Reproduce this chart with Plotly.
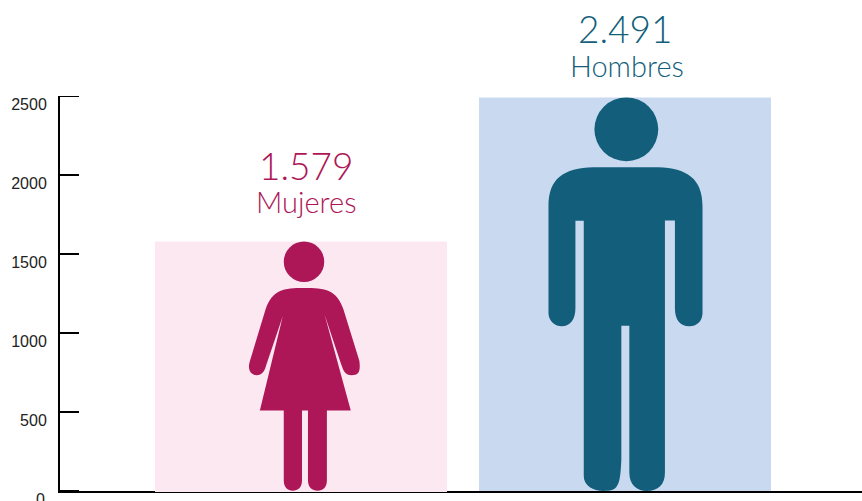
import plotly.graph_objects as go

# --- data ---
categories = ["Mujeres", "Hombres"]
values = [1579, 2491]
value_labels = ["1.579", "2.491"]
y_ticks = [0, 500, 1000, 1500, 2000, 2500]

# --- style ---
W, H = 862, 501
ML, MT, MB = 60, 96, 10
PLOT_W, PLOT_H = W - ML, H - MT - MB
Y_MAX = 2500
X_UNIT = 324.0
X0_PX = 301.0
X_RANGE = [(ML - X0_PX) / X_UNIT, (W - X0_PX) / X_UNIT]
BAR_W = 292 / X_UNIT
bar_colors = ["#FCE8F1", "#C9DAF0"]
fig_colors = ["#AE1757", "#135F7B"]
text_colors = ["#AE1757", "#135F7B"]
FONT = "Lato"
TICK_FONT = dict(family="Liberation Sans", size=16, color="#222222")

# Pictogram outlines: hand-traced, in their own drawing units (top, bottom, centre given below)
woman = dict(
    top=35, bottom=787, cx=221,
    head=(221, 96, 61),
    path=[
        ("M", (221, 175)),
        ("C", (160, 175), (125, 180), (105, 240)),
        ("L", (58, 395)),
        ("C", (48, 425), (65, 438), (78, 438)),
        ("C", (95, 438), (103, 425), (108, 405)),
        ("L", (157, 260)),
        ("L", (88, 544)),
        ("L", (160, 544)),
        ("L", (160, 755)),
        ("C", (160, 775), (172, 786), (187, 786)),
        ("C", (203, 786), (215, 775), (215, 755)),
        ("L", (215, 544)),
        ("L", (233, 544)),
        ("L", (233, 755)),
        ("C", (233, 775), (246, 786), (262, 786)),
        ("C", (278, 786), (290, 775), (290, 755)),
        ("L", (290, 544)),
        ("L", (362, 544)),
        ("L", (283, 255)),
        ("L", (333, 405)),
        ("C", (340, 425), (345, 438), (365, 438)),
        ("C", (385, 438), (392, 430), (388, 395)),
        ("L", (340, 240)),
        ("C", (320, 180), (285, 175), (221, 175)),
        ("Z",),
    ],
)
man = dict(
    top=22, bottom=1205, cx=288,
    head=(289, 118, 96),
    path=[
        ("M", (288, 232)),
        ("L", (190, 232)),
        ("C", (100, 235), (55, 265), (55, 350)),
        ("L", (55, 670)),
        ("C", (55, 695), (75, 710), (95, 710)),
        ("C", (120, 710), (136, 690), (136, 655)),
        ("L", (136, 393)),
        ("L", (161, 393)),
        ("L", (161, 1160)),
        ("C", (161, 1190), (190, 1205), (220, 1205)),
        ("C", (240, 1205), (255, 1203), (262, 1188)),
        ("C", (268, 1178), (272, 1160), (274, 1110)),
        ("L", (274, 708)),
        ("L", (298, 708)),
        ("L", (298, 1150)),
        ("C", (298, 1185), (320, 1205), (350, 1205)),
        ("C", (385, 1205), (405, 1185), (405, 1150)),
        ("L", (405, 392)),
        ("L", (435, 392)),
        ("L", (435, 655)),
        ("C", (435, 690), (450, 710), (478, 710)),
        ("C", (505, 710), (518, 690), (518, 670)),
        ("L", (518, 350)),
        ("C", (518, 265), (470, 235), (385, 232)),
        ("Z",),
    ],
)
figures = [woman, man]
fig_offset_px = [3, 1]  # pictogram centre vs bar centre
number_shift = [76, 69]
label_shift = [40, 32]
text_dx = [5, 0]
label_dx = [5, 2]


def pictogram_shapes(fig_def, x_center, value, color, dx_px):
    y_per_px = Y_MAX / PLOT_H
    height_px = value / y_per_px
    scale = height_px / (fig_def["bottom"] - fig_def["top"])
    px = lambda u: x_center + (dx_px + (u - fig_def["cx"]) * scale) / X_UNIT
    py = lambda v: value * (fig_def["bottom"] - v) / (fig_def["bottom"] - fig_def["top"])
    parts = []
    for seg in fig_def["path"]:
        if seg[0] == "Z":
            parts.append("Z")
        else:
            parts.append(seg[0] + " " + " ".join(f"{px(p[0]):.5f},{py(p[1]):.3f}" for p in seg[1:]))
    hx, hy, hr = fig_def["head"]
    return [
        dict(type="path", path=" ".join(parts), xref="x", yref="y",
             fillcolor=color, line=dict(width=0)),
        dict(type="circle", xref="x", yref="y",
             x0=px(hx - hr), x1=px(hx + hr), y0=py(hy + hr), y1=py(hy - hr),
             fillcolor=color, line=dict(width=0)),
    ]


x_pos = list(range(len(categories)))
fig = go.Figure(
    go.Bar(x=x_pos, y=values, marker=dict(color=bar_colors, line=dict(width=0)),
           width=BAR_W, hoverinfo="skip", showlegend=False)
)

shapes, annotations = [], []
for i, v in enumerate(values):
    shapes += pictogram_shapes(figures[i], x_pos[i], v, fig_colors[i], fig_offset_px[i])
    annotations.append(dict(
        x=x_pos[i], y=v, xref="x", yref="y", text=value_labels[i], showarrow=False,
        xshift=text_dx[i], yshift=number_shift[i],
        font=dict(family=FONT, size=37, color=text_colors[i], weight=300)))
    annotations.append(dict(
        x=x_pos[i], y=v, xref="x", yref="y", text=categories[i], showarrow=False,
        xshift=label_dx[i], yshift=label_shift[i],
        font=dict(family=FONT, size=29, color=text_colors[i], weight=300)))

# The lowest tick label runs past the page edge, so it is placed directly
annotations.append(dict(
    x=0, y=y_ticks[0], xref="paper", yref="y", text=str(y_ticks[0]), showarrow=False,
    xanchor="right", yanchor="middle", xshift=-13, yshift=-8, font=TICK_FONT))

# End ticks sit on the axis ends, where the axis itself does not draw them
for tick_y in (y_ticks[0], y_ticks[-1]):
    shapes.append(dict(type="line", xref="paper", yref="y", x0=-1 / PLOT_W, x1=19 / PLOT_W,
                       y0=tick_y, y1=tick_y, line=dict(color="black", width=2)))

# The women's bar covers the upper row of the baseline
shapes.append(dict(type="rect", xref="x", yref="paper",
                   x0=x_pos[0] - BAR_W / 2, x1=x_pos[0] + BAR_W / 2,
                   y0=0, y1=-1 / PLOT_H, fillcolor=bar_colors[0], line=dict(width=0)))

fig.update_layout(
    width=W, height=H, autosize=False,
    margin=dict(l=ML, r=0, t=MT, b=MB, pad=0),
    paper_bgcolor="white", plot_bgcolor="white",
    shapes=shapes, annotations=annotations, showlegend=False,
    xaxis=dict(range=X_RANGE, showgrid=False, zeroline=False, showline=True,
               linecolor="black", linewidth=1.5, ticks="", showticklabels=False,
               fixedrange=True),
    yaxis=dict(range=[0, Y_MAX], tickvals=y_ticks[1:], ticktext=[str(t) for t in y_ticks[1:]],
               showgrid=False, zeroline=False, showline=True, linecolor="black",
               linewidth=2, ticks="inside", ticklen=19, tickcolor="black", tickwidth=1.5,
               ticklabelshift=8, ticklabelstandoff=8, tickfont=TICK_FONT,
               fixedrange=True),
)

fig.write_html("out.html", config={"displayModeBar": False},
               post_script="document.body.style.margin='0';")
